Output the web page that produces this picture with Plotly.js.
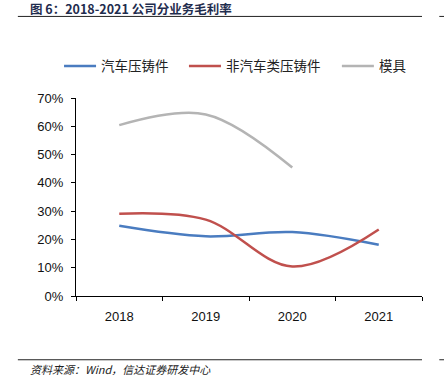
<!DOCTYPE html>
<html>
<head>
<meta charset="utf-8">
<script src="https://cdn.plot.ly/plotly-3.0.1.min.js"></script>
<style>
html,body{margin:0;padding:0;background:#fff;}
#chart{width:444px;height:385px;}
</style>
</head>
<body>
<div id="chart"></div>
<script>
const years = ['2018', '2019', '2020', '2021'];
const autoCasting = [0.248, 0.211, 0.226, 0.181];
const nonAutoCasting = [0.291, 0.270, 0.104, 0.235];
const molds = [0.604, 0.642, 0.454, null];
const seriesNames = ['汽车压铸件', '非汽车类压铸件', '模具'];
const titleText = '图 6：2018-2021 公司分业务毛利率';
const sourceText = '资料来源：Wind，信达证券研发中心';

const colors = ['#4a7cc0', '#c0504d', '#b4b4b4'];
const dataSets = [autoCasting, nonAutoCasting, molds];
const legendIds = ['legend', 'legend2', 'legend3'];
const legendX = [-0.049, 0.312, 0.754];

const traces = dataSets.map((vals, i) => ({
  type: 'scatter',
  mode: 'lines',
  x: years,
  y: vals,
  name: seriesNames[i],
  legend: legendIds[i],
  line: {color: colors[i], width: 2.5, shape: 'spline', smoothing: 1},
  connectgaps: false,
  hoverinfo: 'none'
}));

const layout = {
  width: 444,
  height: 385,
  margin: {l: 76, r: 22, t: 98, b: 89},
  paper_bgcolor: '#fff',
  plot_bgcolor: '#fff',
  font: {family: 'Liberation Sans, Arial, sans-serif', size: 12, color: '#000'},
  showlegend: true,
  xaxis: {
    type: 'category',
    range: [-0.5, 3.5],
    showline: true,
    linecolor: '#000',
    linewidth: 1,
    ticks: 'outside',
    tickson: 'boundaries',
    ticklen: 4,
    tickcolor: '#000',
    ticklabelstandoff: 8,
    showgrid: false,
    zeroline: false,
    tickfont: {family: 'Liberation Sans, Arial, sans-serif', size: 13, color: '#111'},
    fixedrange: true
  },
  yaxis: {
    range: [0, 0.7],
    dtick: 0.1,
    tickformat: '.0%',
    showline: true,
    linecolor: '#000',
    linewidth: 1,
    ticks: 'outside',
    ticklen: 4,
    tickcolor: '#000',
    ticklabelstandoff: 5,
    showgrid: false,
    zeroline: false,
    tickfont: {family: 'Liberation Sans, Arial, sans-serif', size: 13, color: '#111'},
    fixedrange: true
  },
  shapes: [
    {type: 'line', xref: 'paper', yref: 'paper', x0: -0.168, x1: 1.0, y0: 1.412, y1: 1.412, line: {color: '#222', width: 1}},
    {type: 'line', xref: 'paper', yref: 'paper', x0: 1.05, x1: 1.065, y0: 1.412, y1: 1.412, line: {color: '#222', width: 1}},
    {type: 'line', xref: 'paper', yref: 'paper', x0: -0.168, x1: 1.0, y0: -0.322, y1: -0.322, line: {color: '#222', width: 1}},
    {type: 'line', xref: 'paper', yref: 'paper', x0: 1.05, x1: 1.065, y0: -0.322, y1: -0.322, line: {color: '#222', width: 1}}
  ],
  annotations: [
    {
      text: titleText,
      xref: 'paper', yref: 'paper',
      x: -0.139, y: 1.45, xanchor: 'left', yanchor: 'middle', align: 'left',
      showarrow: false,
      font: {family: 'Noto Sans CJK SC', size: 12.5, weight: 700, color: '#1f2d4e'}
    },
    {
      text: sourceText,
      xref: 'paper', yref: 'paper',
      x: -0.139, y: -0.37, xanchor: 'left', yanchor: 'middle', align: 'left',
      showarrow: false,
      font: {family: 'Noto Sans CJK SC', size: 11, style: 'italic', color: '#222'}
    }
  ]
};

legendIds.forEach((id, i) => {
  layout[id] = {
    orientation: 'h',
    x: legendX[i], xanchor: 'left',
    y: 1.16, yanchor: 'middle',
    font: {family: 'Noto Sans CJK SC', size: 13.5, color: '#222'},
    itemwidth: 32,
    bgcolor: 'rgba(0,0,0,0)'
  };
});

Plotly.newPlot('chart', traces, layout, {displayModeBar: false, staticPlot: true});
</script>
</body>
</html>
